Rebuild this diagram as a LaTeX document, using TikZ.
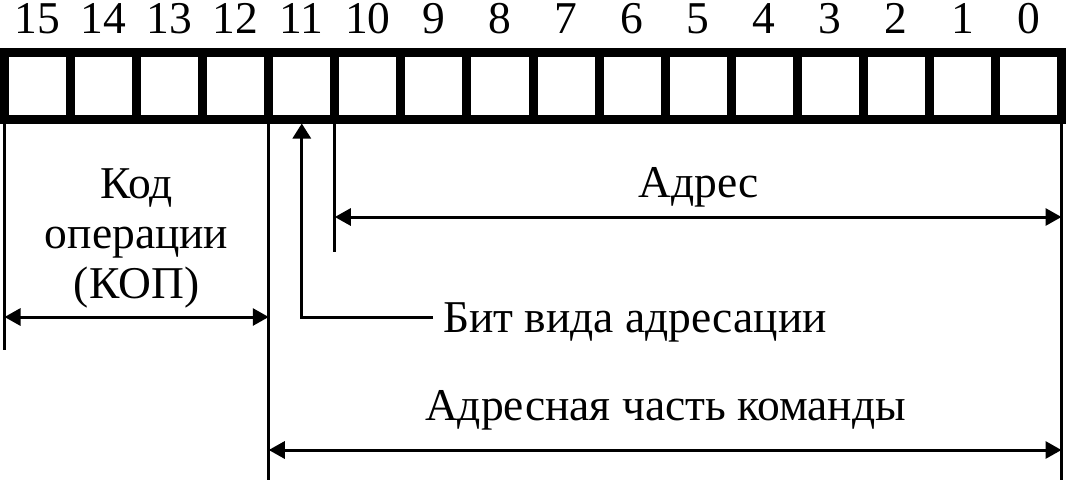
\documentclass[tikz,border=0pt]{standalone}
\usepackage{fontspec}
\setmainfont{Liberation Serif}
\usetikzlibrary{arrows.meta}

\def\cw{66.0625}
\tikzstyle{cell}=[draw, line width=9pt, minimum width=\cw pt, minimum height=66.5pt, inner sep=0pt, outer sep=0pt]
\tikzstyle{ext}=[draw, line width=3pt]
\tikzstyle{dim}=[draw, line width=3pt, {Triangle[length=16pt,width=17pt]}-{Triangle[length=16pt,width=17pt]}]
\tikzstyle{pointer}=[draw, line width=3pt, -{Triangle[length=15pt,width=18pt]}]
\tikzstyle{lbl}=[font=\fontsize{45.5}{50}\selectfont, inner sep=0pt, anchor=base]
\tikzstyle{bitnum}=[lbl, text height=30pt, text depth=0pt]

\begin{document}
\begin{tikzpicture}[x=1pt,y=-1pt]
  \useasboundingbox (0,0) rectangle (1066,483);

  % register cells and bit numbers
  \foreach \bit in {15,...,0} {
    \pgfmathsetmacro{\xc}{4.5+(15.5-\bit)*\cw}
    \node[cell] (c\bit) at (\xc,85.75) {};
    \node[bitnum] (n\bit) at (\xc,33) {\bit};
  }

  % labels
  \node[lbl, align=center] (kop) at (136.6,298) {Код\\операции\\(КОП)};
  \node[lbl] (addr) at (699,197) {Адрес};
  \node[lbl, anchor=base west] (mode) at (443,332) {Бит вида адресации};
  \node[lbl] (part) at (665.5,420) {Адресная часть команды};

  % ends of the lines
  \coordinate (kopEnd) at (c15.south west |- 0,350);
  \coordinate (midEnd) at (c12.south east |- 0,480);
  \coordinate (addrEnd) at (c10.south west |- 0,252);
  \coordinate (rightEnd) at (c0.south east |- 0,480);
  \coordinate (kopL) at (c15.south west |- 0,317);
  \coordinate (kopR) at (c12.south east |- 0,317);
  \coordinate (addrL) at (c10.south west |- 0,217);
  \coordinate (addrR) at (c0.south east |- 0,217);
  \coordinate (partL) at (c12.south east |- 0,450);
  \coordinate (partR) at (c0.south east |- 0,450);
  \coordinate (modeT) at (433,317);
  \coordinate (modeH) at ([yshift=-4.5pt]c11.south);

  \foreach \source/\sink in {c15.south west/kopEnd, c12.south east/midEnd, c10.south west/addrEnd, c0.south east/rightEnd} {
    \path[ext] (\source) -- (\sink);
  }
  \foreach \source/\sink in {kopL/kopR, addrL/addrR, partL/partR} {
    \path[dim] (\source) -- (\sink);
  }
  \path[pointer] (modeT) -| (modeH);
\end{tikzpicture}
\end{document}
